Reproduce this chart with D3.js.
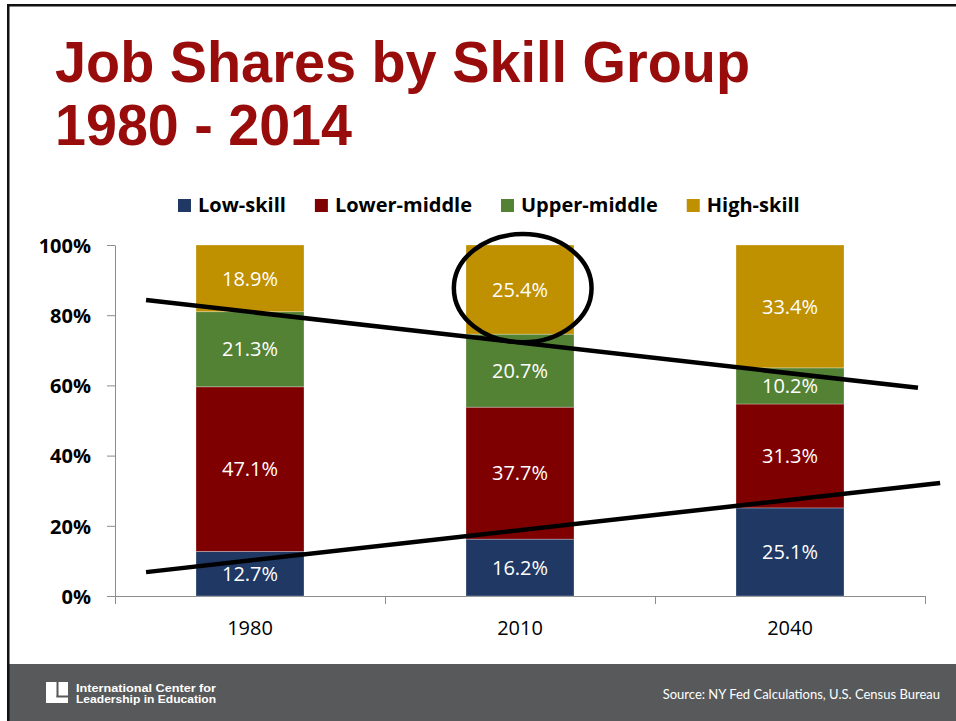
<!DOCTYPE html>
<html>
<head>
<meta charset="utf-8">
<script src="https://cdn.jsdelivr.net/npm/d3@7"></script>
<style>
  html, body { margin: 0; padding: 0; background: #fff; }
  svg { display: block; }
</style>
</head>
<body>
<svg id="chart" width="956" height="721"></svg>
<script>
// ---------- data ----------
const titleLines = ["Job Shares by Skill Group", "1980 - 2014"];
const categories = ["1980", "2010", "2040"];
const seriesNames = ["Low-skill", "Lower-middle", "Upper-middle", "High-skill"];
// bar heights as drawn (percent)
const lowSkill    = [12.7, 16.2, 25.1];
const lowerMiddle = [46.9, 37.6, 29.6];
const upperMiddle = [21.4, 20.8, 10.3];
const highSkill   = [19.0, 25.4, 35.0];
// data label texts as printed on the bars
const lowSkillLabels    = ["12.7%", "16.2%", "25.1%"];
const lowerMiddleLabels = ["47.1%", "37.7%", "31.3%"];
const upperMiddleLabels = ["21.3%", "20.7%", "10.2%"];
const highSkillLabels   = ["18.9%", "25.4%", "33.4%"];
const yTicks = [0, 20, 40, 60, 80, 100];
const seriesColors = ["#203864", "#7f0000", "#548235", "#bf9000"];
// hand-drawn annotation lines (x in category-index units, y in percent)
const trendDown = [[-0.385, 84.3], [2.474, 59.3]];
const trendUp   = [[-0.385, 6.8], [2.556, 32.2]];
const circled   = { cat: 1.01, pct: 87.7, rxCat: 0.255, ryPct: 15.4 };
const sourceText = "Source: NY Fed Calculations, U.S. Census Bureau";
const logoLines = ["International Center for", "Leadership in Education"];

const series = [lowSkill, lowerMiddle, upperMiddle, highSkill];
const seriesLabels = [lowSkillLabels, lowerMiddleLabels, upperMiddleLabels, highSkillLabels];
const rows = categories.map((c, i) => {
  const r = { cat: c, idx: i };
  seriesNames.forEach((s, j) => r[s] = series[j][i]);
  return r;
});
const stacked = d3.stack().keys(seriesNames)(rows);

const svg = d3.select("#chart");
const W = 956, H = 721;
const labelFont = "'Open Sans', Lato, sans-serif";

// ---------- frame & footer ----------
svg.append("rect").attr("x", 9).attr("y", 664).attr("width", W - 9).attr("height", H - 664).attr("fill", "#58595b");
svg.append("rect").attr("x", 7).attr("y", 4).attr("width", W - 7).attr("height", 2.5).attr("fill", "#111");
svg.append("rect").attr("x", 7).attr("y", 4).attr("width", 2.5).attr("height", H - 4).attr("fill", "#111");

// ---------- title ----------
const title = svg.append("g");
titleLines.forEach((t, i) => {
  title.append("text")
    .attr("x", 55).attr("y", 82 + i * 63)
    .attr("font-family", "'Liberation Sans', Arial, sans-serif")
    .attr("font-weight", "bold")
    .attr("font-size", 58)
    .attr("fill", "#990c0c")
    .attr("textLength", i === 0 ? 695 : 297).attr("lengthAdjust", "spacingAndGlyphs")
    .text(t);
});

// ---------- scales ----------
const x = d3.scaleBand().domain(categories).range([115, 925]).paddingInner(0.6).paddingOuter(0.3);
const y = d3.scaleLinear().domain([0, 100]).range([596, 245]);
const xi = d3.scaleLinear().domain([0, 1])
  .range([x(categories[0]) + x.bandwidth() / 2, x(categories[0]) + x.bandwidth() / 2 + x.step()]);

// ---------- axes ----------
const axisColor = "#8c8c8c";
const yAxis = svg.append("g").attr("transform", "translate(115,0)")
  .call(d3.axisLeft(y).tickValues(yTicks).tickFormat(d => d + "%").tickSize(8).tickSizeOuter(0).tickPadding(16));
yAxis.select(".domain").attr("stroke", axisColor);
yAxis.selectAll(".tick line").attr("stroke", axisColor);
yAxis.selectAll(".tick text")
  .attr("font-family", labelFont)
  .attr("font-weight", "bold").attr("font-size", 20).attr("fill", "#000").attr("dy", "0.36em");

const xAxisG = svg.append("g");
xAxisG.append("line").attr("x1", 115).attr("x2", 926).attr("y1", 596.5).attr("y2", 596.5).attr("stroke", axisColor);
const bounds = [0, 1, 2, 3].map(i => 115 + i * x.step());
xAxisG.selectAll(".xt").data(bounds).join("line")
  .attr("x1", d => d + 0.5).attr("x2", d => d + 0.5).attr("y1", 596).attr("y2", 604).attr("stroke", axisColor);
xAxisG.selectAll(".xl").data(categories).join("text")
  .attr("x", d => x(d) + x.bandwidth() / 2).attr("y", 635)
  .attr("text-anchor", "middle")
  .attr("font-family", labelFont).attr("font-size", 20).attr("fill", "#000")
  .text(d => d);

// ---------- bars ----------
const layers = svg.append("g").selectAll("g").data(stacked).join("g")
  .attr("fill", (d, i) => seriesColors[i]);
layers.selectAll("rect").data(d => d).join("rect")
  .attr("x", d => x(d.data.cat))
  .attr("width", x.bandwidth())
  .attr("y", d => y(d[1]))
  .attr("height", d => y(d[0]) - y(d[1]))
  .attr("stroke", "rgba(255,255,255,0.35)").attr("stroke-width", 0.8);

// ---------- labels ----------
const labels = svg.append("g");
stacked.forEach((layer, j) => {
  layer.forEach(d => {
    labels.append("text")
      .attr("x", x(d.data.cat) + x.bandwidth() / 2)
      .attr("y", y((d[0] + d[1]) / 2))
      .attr("dy", "0.36em")
      .attr("text-anchor", "middle")
      .attr("font-family", labelFont).attr("font-size", 20).attr("fill", "#fff")
      .text(seriesLabels[j][d.data.idx]);
  });
});

// ---------- annotations ----------
const line = d3.line().x(d => xi(d[0])).y(d => y(d[1]));
[trendDown, trendUp].forEach(l => {
  svg.append("path").attr("d", line(l)).attr("fill", "none").attr("stroke", "#000").attr("stroke-width", 4.5);
});
svg.append("ellipse")
  .attr("cx", xi(circled.cat)).attr("cy", y(circled.pct))
  .attr("rx", xi(circled.rxCat) - xi(0)).attr("ry", y(0) - y(circled.ryPct))
  .attr("fill", "none").attr("stroke", "#000").attr("stroke-width", 4.5);

// ---------- legend ----------
const legend = svg.append("g");
let lx = 178;
seriesNames.forEach((s, i) => {
  legend.append("rect").attr("x", lx).attr("y", 199).attr("width", 13).attr("height", 13).attr("fill", seriesColors[i]);
  const t = legend.append("text").attr("x", lx + 20).attr("y", 212)
    .attr("font-family", labelFont).attr("font-weight", "bold").attr("font-size", 20).attr("fill", "#000")
    .text(s);
  lx += 20 + t.node().getComputedTextLength() + 29;
});

// ---------- footer ----------
const logo = svg.append("g");
logo.append("rect").attr("x", 46).attr("y", 682).attr("width", 22).attr("height", 21).attr("fill", "#fff");
logo.append("rect").attr("x", 56.5).attr("y", 682).attr("width", 2).attr("height", 15).attr("fill", "#58595b");
logo.append("rect").attr("x", 56.5).attr("y", 695.5).attr("width", 11.5).attr("height", 2).attr("fill", "#58595b");
logoLines.forEach((t, i) => {
  logo.append("text").attr("x", 76).attr("y", 692 + i * 10.5)
    .attr("font-family", "'Liberation Sans Narrow', 'Liberation Sans', Arial, sans-serif")
    .attr("font-weight", "bold").attr("font-size", 11).attr("fill", "#fff")
    .attr("textLength", 140).attr("lengthAdjust", "spacingAndGlyphs")
    .text(t);
});
svg.append("text").attr("x", 940).attr("y", 699).attr("text-anchor", "end")
  .attr("font-family", "Lato, 'Open Sans', sans-serif").attr("font-size", 13).attr("fill", "#fff")
  .text(sourceText);
</script>
</body>
</html>
